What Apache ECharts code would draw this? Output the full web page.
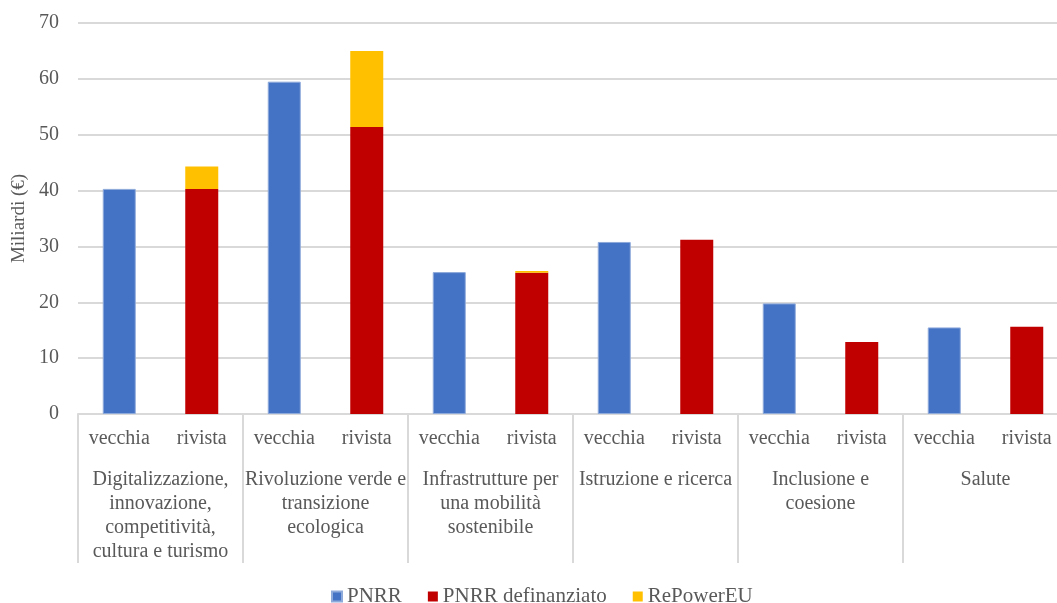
<!DOCTYPE html>
<html>
<head>
<meta charset="utf-8">
<script src="https://cdn.jsdelivr.net/npm/echarts@6/dist/echarts.min.js"></script>
<style>
  html, body { margin: 0; padding: 0; background: #fff; }
  #chart { width: 1057px; height: 603px; }
</style>
</head>
<body>
<div id="chart"></div>
<script>
// categorie
const gruppi = [
  'Digitalizzazione,\ninnovazione,\ncompetitività,\ncultura e turismo',
  'Rivoluzione verde e\ntransizione\necologica',
  'Infrastrutture per\nuna mobilità\nsostenibile',
  'Istruzione e ricerca',
  'Inclusione e\ncoesione',
  'Salute'
]
const versioni = ['vecchia', 'rivista', 'vecchia', 'rivista', 'vecchia', 'rivista',
  'vecchia', 'rivista', 'vecchia', 'rivista', 'vecchia', 'rivista']

// valori (miliardi di euro)
const pnrr = [40.3, '-', 59.5, '-', 25.4, '-', 30.8, '-', 19.8, '-', 15.5, '-']
const pnrrDefinanziato = ['-', 40.3, '-', 51.4, '-', 25.3, '-', 31.2, '-', 12.9, '-', 15.6]
const rePowerEU = ['-', 4.0, '-', 13.6, '-', 0.3, '-', 0, '-', 0, '-', 0]

const yTicks = { min: 0, max: 70, interval: 10 }

const font = 'Liberation Serif'
const grigio = '#595959'

var myChart = echarts.init(document.getElementById('chart'))
let option = {
  textStyle: { fontFamily: font },
  animation: false,
  grid: {
    left: 78,
    right: -11,
    top: 23,
    bottom: 189,
    outerBoundsMode: 'none'
  },
  legend: {
    top: 586,
    left: 331,
    padding: 0,
    icon: 'rect',
    itemWidth: 10,
    itemHeight: 10,
    itemGap: 26,
    textStyle: { fontFamily: font, fontSize: 21, color: grigio },
    data: ['PNRR', 'PNRR definanziato', 'RePowerEU']
  },
  xAxis: [
    {
      type: 'category',
      data: versioni,
      axisLine: { lineStyle: { color: '#d9d9d9', width: 2 } },
      axisTick: { show: false },
      axisLabel: { fontFamily: font, fontSize: 20, color: grigio, margin: 15, interval: 0 }
    },
    {
      type: 'category',
      data: gruppi,
      position: 'bottom',
      offset: 0,
      axisLine: { show: false },
      axisTick: { show: true, length: 149, lineStyle: { color: '#d9d9d9', width: 2 } },
      axisLabel: {
        fontFamily: font, fontSize: 20, color: grigio, margin: 54,
        lineHeight: 24, interval: 0, align: 'center'
      }
    }
  ],
  yAxis: {
    type: 'value',
    min: yTicks.min,
    max: yTicks.max,
    interval: yTicks.interval,
    name: 'Miliardi (€)',
    nameLocation: 'middle',
    nameGap: 48,
    nameTextStyle: { fontFamily: font, fontSize: 19, color: grigio },
    axisLine: { show: false },
    axisTick: { show: false },
    axisLabel: { fontFamily: font, fontSize: 20, color: grigio, margin: 19 },
    splitLine: { lineStyle: { color: '#d9d9d9', width: 2 } }
  },
  series: [
    {
      name: 'PNRR',
      type: 'bar',
      stack: 'tot',
      barWidth: '40%',
      xAxisIndex: 0,
      itemStyle: { color: '#4472c4', borderColor: '#8eaadb', borderWidth: 1 },
      data: pnrr
    },
    {
      name: 'PNRR definanziato',
      type: 'bar',
      stack: 'tot',
      barWidth: '40%',
      xAxisIndex: 0,
      itemStyle: { color: '#c00000' },
      data: pnrrDefinanziato
    },
    {
      name: 'RePowerEU',
      type: 'bar',
      stack: 'tot',
      barWidth: '40%',
      xAxisIndex: 0,
      itemStyle: { color: '#ffc000' },
      data: rePowerEU
    }
  ]
}
myChart.setOption(option)
</script>
</body>
</html>
